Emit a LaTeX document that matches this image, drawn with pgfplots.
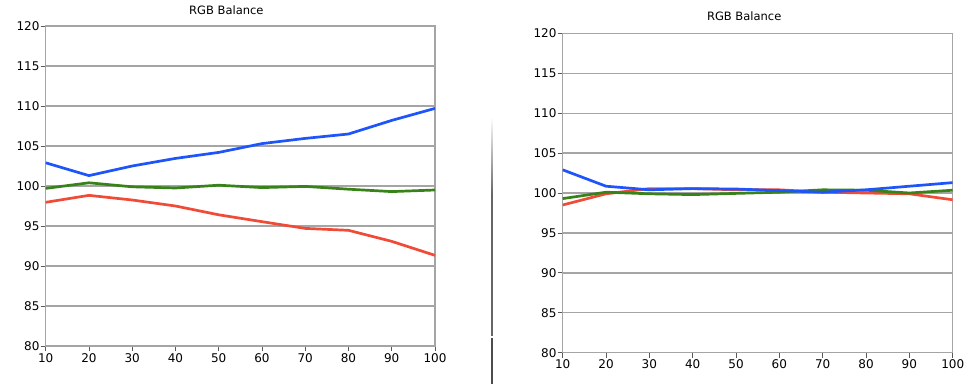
\documentclass[border=0pt]{standalone}
\usepackage{fontspec}
\setmainfont{DejaVu Sans}
\usepackage{pgfplots}
\pgfplotsset{compat=1.18}
\definecolor{cblue}{RGB}{30,85,250}
\definecolor{cgreen}{RGB}{55,130,25}
\definecolor{cred}{RGB}{240,75,55}
\definecolor{gridc}{RGB}{165,165,165}
\pgfplotsset{rgbstyle/.style={
  scale only axis, xmin=10, xmax=100, ymin=80, ymax=120,
  xtick={10,20,...,100}, ytick={80,85,...,120},
  ymajorgrids, grid style={gridc, line width=1.3bp},
  axis line style={gridc, line width=1.3bp},
  tick align=outside, xtick pos=left, ytick pos=left, major tick length=5bp,
  tick style={black!65, line width=0.8bp},
  ticklabel style={font=\fontsize{12bp}{14bp}\selectfont},
  /pgf/number format/assume math mode=true,
  yticklabel style={inner sep=1bp},
  xticklabel style={inner sep=2bp},
  title={RGB Balance},
  every axis plot/.append style={line width=2.7bp, no markers, line join=round},
  anchor=south west,
}}
\begin{document}
\begin{tikzpicture}[x=1bp,y=1bp]
\useasboundingbox (0,0) rectangle (972,384);
% divider
\fill[black!70] (491.4,0) rectangle (492.6,46);
\fill[black!60] (491.4,48) rectangle (492.6,190);
\shade[top color=white, bottom color=black!60] (491.4,190) rectangle (492.6,267);
\begin{axis}[rgbstyle, at={(45.7bp,38bp)}, width=389.3bp, height=320bp,
  title style={font=\fontsize{11.5bp}{13bp}\selectfont, at={(0.5,1)}, anchor=base, xshift=-14bp, yshift=6bp}]
\addplot[cblue] coordinates {(10,102.9) (20,101.3) (30,102.5) (40,103.45) (50,104.2) (60,105.3) (70,105.95) (80,106.5) (90,108.2) (100,109.7)};
\addplot[cgreen] coordinates {(10,99.7) (20,100.4) (30,99.9) (40,99.75) (50,100.1) (60,99.8) (70,99.95) (80,99.6) (90,99.3) (100,99.5)};
\addplot[cred] coordinates {(10,97.96) (20,98.83) (30,98.25) (40,97.5) (50,96.4) (60,95.54) (70,94.7) (80,94.46) (90,93.08) (100,91.33)};
\end{axis}
\begin{axis}[rgbstyle, at={(562.7bp,31.3bp)}, width=390bp, height=319.4bp,
  title style={font=\fontsize{11.5bp}{13bp}\selectfont, at={(0.5,1)}, anchor=base, xshift=-13.5bp, yshift=7.3bp}]
\addplot[cred] coordinates {(10,98.5) (20,99.9) (30,100.55) (40,100.55) (50,100.4) (60,100.4) (70,100.1) (80,100.0) (90,99.9) (100,99.15)};
\addplot[cgreen] coordinates {(10,99.3) (20,100.1) (30,99.9) (40,99.8) (50,99.95) (60,100.1) (70,100.4) (80,100.35) (90,100.0) (100,100.35)};
\addplot[cblue] coordinates {(10,102.9) (20,100.85) (30,100.4) (40,100.55) (50,100.5) (60,100.3) (70,100.1) (80,100.4) (90,100.85) (100,101.3)};
\end{axis}
\end{tikzpicture}
\end{document}
